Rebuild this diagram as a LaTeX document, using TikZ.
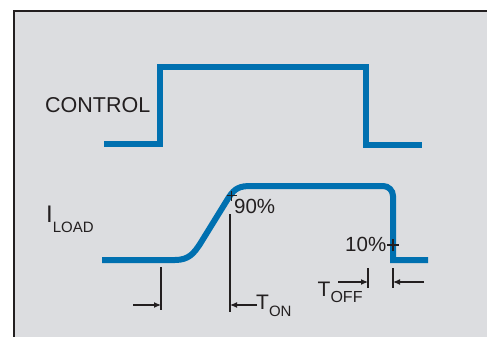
\documentclass[tikz,border=0pt]{standalone}
\usepackage{fontspec}
\setmainfont{Liberation Sans}
\usetikzlibrary{arrows.meta}

\definecolor{sigblue}{RGB}{0,112,176}
\definecolor{panelgray}{RGB}{220,221,224}
\definecolor{inkblack}{RGB}{35,31,32}

\tikzset{
  wave/.style={sigblue, line width=6pt, line join=miter},
  marker/.style={inkblack, line width=1.1pt},
  dimarrow/.style={marker, -{Latex[length=7pt,width=6pt]}},
  siglabel/.style={inkblack, inner sep=0pt, anchor=base west},
}

\begin{document}
\begin{tikzpicture}[x=1pt, y=-1pt]
    \useasboundingbox (0,0) rectangle (487,337);

    % Panel
    \fill[panelgray] (14,11) rectangle (487,337);
    \draw[inkblack, line width=2.5pt] (14,337) -- (14,11) -- (487,11);

    % Control signal
    \draw[wave] (104,144) -- (160,144) -- (160,67.5) -- (366,67.5) -- (366,145) -- (422,145);
    \node[siglabel] (control) at (45,112) {\fontsize{21.5}{21.5}\selectfont CONTROL};

    % Load current
    \draw[wave] (102,260) -- (175,260) .. controls (189,260) and (194,253) .. (200,244)
        -- (229,197) .. controls (235,188) and (240,186) .. (251,186)
        [rounded corners=10pt] -- (393,186) [rounded corners=0pt] -- (393,260) -- (428,260);
    \node[siglabel] (iload) at (46,222) {\fontsize{24}{24}\selectfont I\raisebox{-10pt}{\fontsize{15}{15}\selectfont LOAD}};

    % Threshold points
    \coordinate (p90) at (231.5,195.5);
    \coordinate (p10) at (393,245);
    \draw[marker] ([xshift=-5pt]p90) -- ([xshift=5pt]p90) ([yshift=-5pt]p90) -- ([yshift=5pt]p90);
    \draw[marker] ([xshift=-6pt]p10) -- ([xshift=6pt]p10) ([yshift=-6pt]p10) -- ([yshift=6pt]p10);
    \node[siglabel] (n90) at (234,213) {\fontsize{20.5}{20.5}\selectfont 90\%};
    \node[siglabel] (n10) at (345,251) {\fontsize{20.5}{20.5}\selectfont 10\%};

    % Timing marks
    \coordinate (t0) at (161,267);
    \coordinate (t90) at (230,214);
    \coordinate (f90) at (368,268);
    \coordinate (f10) at (393,268);
    \draw[marker] (t0) -- ++(0,43);
    \draw[marker] (t90) -- ++(0,98);
    \draw[marker] (f90) -- ++(0,20);
    \draw[marker] (f10) -- ++(0,20);

    % Turn-on time
    \coordinate (a0) at (133,305);
    \coordinate (a1) at (257,305);
    \draw[dimarrow] (a0) -- (a0 -| t0);
    \draw[dimarrow] (a1) -- (a1 -| t90);
    \node[siglabel] (ton) at (256,309.5) {\fontsize{21}{21}\selectfont T\raisebox{-6.5pt}{\fontsize{15}{15}\selectfont ON}};

    % Turn-off time
    \coordinate (b0) at (338,282);
    \coordinate (b1) at (424,282);
    \draw[dimarrow] (b0) -- (b0 -| f90);
    \draw[dimarrow] (b1) -- (b1 -| f10);
    \node[siglabel] (toff) at (317.5,296) {\fontsize{21}{21}\selectfont T\raisebox{-6pt}{\fontsize{16}{16}\selectfont OFF}};
\end{tikzpicture}
\end{document}
